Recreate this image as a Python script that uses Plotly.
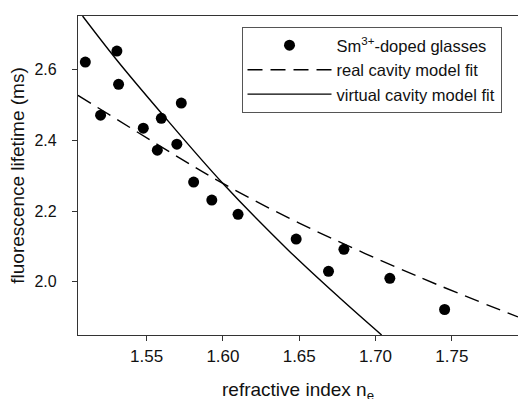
import plotly.graph_objects as go

# measured data (refractive index, lifetime in ms)
n_e = [1.5098, 1.5198, 1.5305, 1.5316, 1.5478, 1.5570, 1.5596, 1.5698, 1.5727,
       1.5808, 1.5927, 1.6099, 1.6480, 1.6692, 1.6793, 1.7094, 1.7453]
tau = [2.621, 2.471, 2.652, 2.558, 2.434, 2.372, 2.462, 2.389, 2.505,
       2.282, 2.231, 2.191, 2.121, 2.030, 2.092, 2.010, 1.922]

# real cavity model fit
real_x = [1.505, 1.572, 1.600, 1.650, 1.729, 1.7934]
real_y = [2.527, 2.349, 2.278, 2.166, 2.013, 1.901]

# virtual cavity model fit
virt_x = [1.508, 1.530, 1.559, 1.600, 1.643, 1.677, 1.704]
virt_y = [2.751, 2.629, 2.480, 2.278, 2.089, 1.953, 1.850]

x_ticks = [1.55, 1.60, 1.65, 1.70, 1.75]
x_ticklabels = ["1.55", "1.60", "1.65", "1.70", "1.75"]
y_ticks = [2.0, 2.2, 2.4, 2.6]
y_ticklabels = ["2.0", "2.2", "2.4", "2.6"]
x_title = "refractive index n<sub>e</sub>"
y_title = "fluorescence lifetime (ms)"

FONT = "Liberation Sans, Arial, sans-serif"
AX = "#333333"
TXT = "#111111"

fig = go.Figure()
fig.add_trace(go.Scatter(x=n_e, y=tau, mode="markers", name="Sm<sup>3+</sup>-doped glasses",
                         marker=dict(color="black", size=11)))
fig.add_trace(go.Scatter(x=real_x, y=real_y, mode="lines", name="real cavity model fit",
                         line=dict(color="black", width=1.4, dash="15px,8px", shape="spline")))
fig.add_trace(go.Scatter(x=virt_x, y=virt_y, mode="lines", name="virtual cavity model fit",
                         line=dict(color="black", width=1.4, shape="spline")))

fig.update_layout(
    width=518, height=399,
    margin=dict(l=78, r=0, t=16, b=64, autoexpand=False),
    paper_bgcolor="white", plot_bgcolor="white",
    font=dict(family=FONT, color=TXT),
    showlegend=True,
    legend=dict(x=0.3716, y=0.9655, xanchor="left", yanchor="top",
                bordercolor="#555555", borderwidth=1, bgcolor="white",
                font=dict(size=16.5, family=FONT, color=TXT),
                itemwidth=84, tracegroupgap=0),
    annotations=[dict(text=x_title, xref="paper", yref="paper", x=0.5, y=0,
                      xanchor="center", yanchor="top", yshift=-42, showarrow=False,
                      font=dict(size=19, family=FONT, color=TXT))],
)
fig.update_xaxes(range=[1.505, 1.7934], tickvals=x_ticks, ticktext=x_ticklabels,
                 showgrid=False, zeroline=False, showline=True, linecolor=AX, linewidth=1.3,
                 mirror=True, ticks="outside", ticklen=5, tickcolor=AX, tickwidth=1.3,
                 automargin=False,
                 tickfont=dict(size=17, family=FONT, color=TXT))
fig.update_yaxes(range=[1.85, 2.751], tickvals=y_ticks, ticktext=y_ticklabels,
                 showgrid=False, zeroline=False, showline=True, linecolor=AX, linewidth=1.3,
                 ticks="outside", ticklen=5, tickcolor=AX, tickwidth=1.3,
                 ticklabelstandoff=12, automargin=False,
                 tickfont=dict(size=16, family=FONT, color=TXT),
                 title=dict(text=y_title, font=dict(size=19, family=FONT, color=TXT),
                            standoff=4))

fig.write_html("out.html")
